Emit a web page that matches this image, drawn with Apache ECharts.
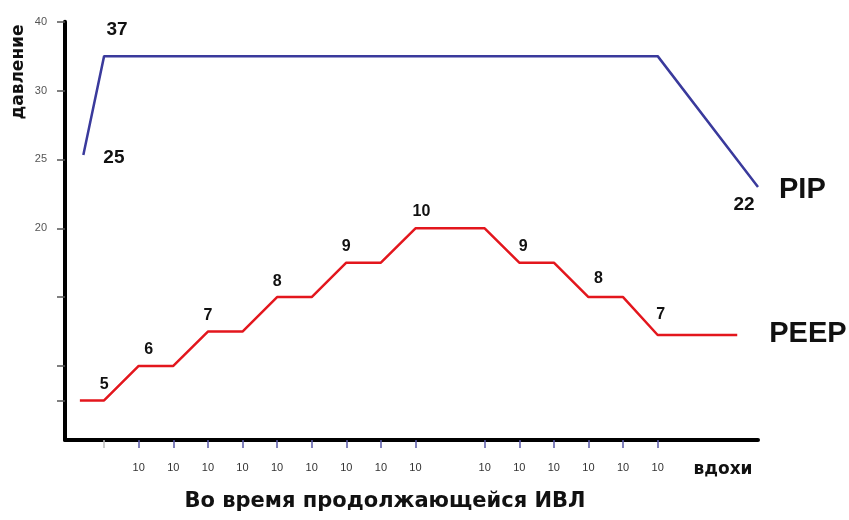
<!DOCTYPE html>
<html><head><meta charset="utf-8">
<script src="https://cdn.jsdelivr.net/npm/echarts@6/dist/echarts.min.js"></script>
<style>html,body{margin:0;padding:0;background:#fff}#c{width:849px;height:520px}</style>
</head><body><div id="c"></div>
<script>
// Schematic chart: values are positions in the chart's own axis units
const xTickValues = [2, 3, 4, 5, 6, 7, 8, 9, 10, 12, 13, 14, 15, 16, 17];
const xTickTexts = ['10', '10', '10', '10', '10', '10', '10', '10', '10', '10', '10', '10', '10', '10', '10'];
const xFirstTick = [1];

const yTickValues = [1, 2, 4, 6, 8, 10, 12];
const yLabelValues = [6, 8, 10, 12];
const yLabelTexts = ['20', '25', '30', '40'];

const pipX = [0.4, 1, 17, 19.9];
const pipY = [8.13, 11, 11, 7.2];
const pipLabels = ['25', '37', '', '22'];

const peepX = [0.3, 1, 2, 3, 4, 5, 6, 7, 8, 9, 10, 12, 13, 14, 15, 16, 17, 19.3];
const peepY = [1, 1, 2, 2, 3, 3, 4, 4, 5, 5, 6, 6, 5, 5, 4, 4, 2.9, 2.9];
const peepLabels = ['', '5', '6', '', '7', '', '8', '', '9', '', '10', '', '9', '', '8', '', '7', ''];

const seriesNames = ['PIP', 'PEEP'];
const yAxisName = 'давление';
const xAxisName = 'вдохи';
const titleText = 'Во время продолжающейся ИВЛ';

// label placement styles (not data)
const pipLabelStyle = [
  {position: 'right', distance: 20, offset: [0, 3]},
  {position: 'top', distance: 17, offset: [13, 0]},
  null,
  {position: 'bottom', distance: 8, offset: [-14, 0]}
];
const peepOffsets = {2: [10, 0], 10: [6, -1], 12: [4, 0], 14: [10, -3], 16: [3, -4]};
const ARIAL = 'Liberation Sans, Arial';
const WIDE = 'DejaVu Sans, Verdana';

const chart = echarts.init(document.getElementById('c'), null, {renderer: 'canvas'});

const pipData = pipX.map((x, i) => {
  const item = {value: [x, pipY[i]]};
  if (pipLabels[i]) {
    const s = pipLabelStyle[i];
    item.label = {show: true, formatter: pipLabels[i], position: s.position, distance: s.distance,
      offset: s.offset, fontSize: 19, fontWeight: 'bold', color: '#111', fontFamily: ARIAL};
  }
  return item;
});
const peepData = peepX.map((x, i) => {
  const item = {value: [x, peepY[i]]};
  if (peepLabels[i]) {
    item.label = {show: true, formatter: peepLabels[i], position: 'top', distance: 8,
      offset: peepOffsets[i] || [0, 0], fontSize: 16, fontWeight: 'bold', color: '#111',
      fontFamily: ARIAL};
  }
  return item;
});

chart.setOption({
  animation: false,
  backgroundColor: '#fff',
  grid: {left: 65, right: 91, top: 21.7, bottom: 80, containLabel: false},
  xAxis: [{
    type: 'value', min: -0.13, max: 19.9,
    axisLine: {show: true, onZero: false, lineStyle: {color: '#000', width: 4}},
    axisTick: {show: true, customValues: xTickValues, length: 8, lineStyle: {color: '#5a5aa8', width: 1.5}},
    axisLabel: {show: true, customValues: xTickValues,
      formatter: v => xTickTexts[xTickValues.indexOf(v)] || '',
      margin: 22, fontSize: 11, color: '#333', fontFamily: ARIAL},
    splitLine: {show: false}
  }, {
    type: 'value', min: -0.13, max: 19.9, position: 'bottom',
    axisLine: {show: false, onZero: false},
    axisTick: {show: true, customValues: xFirstTick, length: 8, lineStyle: {color: '#bbb', width: 1.5}},
    axisLabel: {show: false},
    splitLine: {show: false}
  }],
  yAxis: {
    type: 'value', min: -0.15, max: 12,
    axisLine: {show: true, onZero: false, lineStyle: {color: '#000', width: 4}},
    axisTick: {show: true, customValues: yTickValues, length: 8, lineStyle: {color: '#555', width: 1.5}},
    axisLabel: {show: true, customValues: yLabelValues,
      formatter: v => yLabelTexts[yLabelValues.indexOf(v)] || '',
      margin: 18, fontSize: 11, color: '#555', fontFamily: ARIAL},
    splitLine: {show: false}
  },
  graphic: [
    {type: 'text', x: 19, y: 72, rotation: Math.PI / 2,
      style: {text: yAxisName, fontSize: 17, fontWeight: 'bold', fill: '#111', align: 'center', verticalAlign: 'middle',
        fontFamily: WIDE}},
    {type: 'text', x: 723, y: 470,
      style: {text: xAxisName, fontSize: 17, fontWeight: 'bold', fill: '#111', align: 'center', verticalAlign: 'middle',
        fontFamily: WIDE}},
    {type: 'text', x: 385, y: 502,
      style: {text: titleText, fontSize: 21, fontWeight: 'bold', fill: '#111', align: 'center', verticalAlign: 'middle',
        fontFamily: WIDE}}
  ],
  series: [{
    name: seriesNames[0], type: 'line', xAxisIndex: 0, data: pipData,
    symbol: 'circle', symbolSize: 0, showSymbol: true,
    lineStyle: {color: '#3a3a9c', width: 2.5}, itemStyle: {color: '#3a3a9c'},
    endLabel: {show: true, formatter: seriesNames[0], distance: 21, offset: [0, 3], fontSize: 29, fontWeight: 'bold',
      color: '#111', fontFamily: ARIAL}
  }, {
    name: seriesNames[1], type: 'line', xAxisIndex: 0, data: peepData,
    symbol: 'circle', symbolSize: 0, showSymbol: true,
    lineStyle: {color: '#e3161d', width: 2.5}, itemStyle: {color: '#e3161d'},
    endLabel: {show: true, formatter: seriesNames[1], distance: 32, offset: [0, -1], fontSize: 29, fontWeight: 'bold',
      color: '#111', fontFamily: ARIAL}
  }]
});
</script>
</body></html>
